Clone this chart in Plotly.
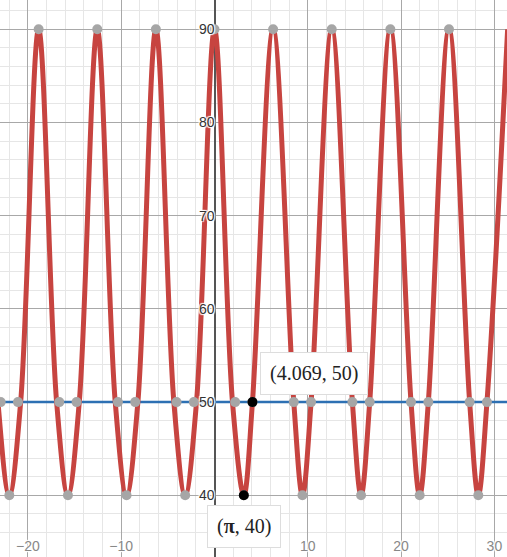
import plotly.graph_objects as go

# Key points of the red curve (maxima, crossings of y=50, minima)
curve_x = [-25.133, -23.205, -21.991, -20.777, -18.850, -16.922, -15.708, -14.494,
           -12.566, -10.639, -9.425, -8.211, -6.283, -4.355, -3.142, -1.928,
           0.0, 1.928, 3.142, 4.069, 6.283, 8.497, 9.425, 10.352,
           12.566, 14.780, 15.708, 16.635, 18.850, 21.064, 21.991, 22.919,
           25.133, 27.347, 28.274, 29.202, 31.416]
curve_y = [90, 50, 40, 50, 90, 50, 40, 50,
           90, 50, 40, 50, 90, 50, 40, 50,
           90, 50, 40, 50, 90, 50, 40, 50,
           90, 50, 40, 50, 90, 50, 40, 50,
           90, 50, 40, 50, 90]

# Grey highlighted points (Desmos style)
max_x = [-18.850, -12.566, -6.283, 0.0, 6.283, 12.566, 18.850, 25.133]
min_x = [-21.991, -15.708, -9.425, -3.142, 3.142, 9.425, 15.708, 21.991, 28.274]
cross_x = [-22.919, -21.064, -16.635, -14.780, -10.352, -8.497, -4.069, -2.214,
           2.214, 4.069, 8.497, 10.352, 14.780, 16.635, 21.064, 22.919, 27.347, 29.202]

hline_y = 50
hline_x = [-30, 40]

labeled_x = [3.14159, 4.069]
labeled_y = [40, 50]
labeled_text = ["(<b>π</b>, 40)", "(4.069, 50)"]

x_ticks = [-20, -10, 10, 20, 30]
y_ticks = [40, 50, 60, 70, 80, 90]

fig = go.Figure()

fig.add_trace(go.Scatter(x=hline_x, y=[hline_y] * len(hline_x), mode="lines",
                         line=dict(color="#2d70b3", width=2.5), hoverinfo="skip"))
fig.add_trace(go.Scatter(x=curve_x, y=curve_y, mode="lines",
                         line=dict(color="#c74440", width=5, shape="spline", smoothing=1.0),
                         hoverinfo="skip"))
grey_x = max_x + min_x + cross_x
grey_y = [90] * len(max_x) + [40] * len(min_x) + [hline_y] * len(cross_x)
fig.add_trace(go.Scatter(x=grey_x, y=grey_y, mode="markers",
                         marker=dict(color="#a6a6a6", size=10), hoverinfo="skip"))
fig.add_trace(go.Scatter(x=labeled_x, y=labeled_y, mode="markers",
                         marker=dict(color="#000000", size=10), hoverinfo="skip"))

fig.add_annotation(x=labeled_x[0], y=labeled_y[0], text=labeled_text[0], showarrow=False,
                   xshift=0, yshift=-31, font=dict(family="Liberation Serif", size=20, color="#222"),
                   bgcolor="white", bordercolor="#dddddd", borderwidth=1, borderpad=9)
fig.add_annotation(x=labeled_x[1], y=labeled_y[1], text=labeled_text[1], showarrow=False,
                   xshift=62, yshift=29, font=dict(family="Liberation Serif", size=20, color="#222"),
                   bgcolor="white", bordercolor="#dddddd", borderwidth=1, borderpad=9)

halo = "1px 1px 1px white, -1px -1px 1px white, 1px -1px 1px white, -1px 1px 1px white"

fig.update_layout(
    width=507, height=557,
    margin=dict(l=0, r=0, t=0, b=0, pad=0),
    paper_bgcolor="white", plot_bgcolor="white",
    showlegend=False,
    xaxis=dict(range=[-22.99, 31.35], tickvals=x_ticks, showgrid=True, gridcolor="#a8a8a8",
               gridwidth=1, zeroline=True, zerolinecolor="#555555", zerolinewidth=2,
               ticklabelposition="inside", ticks="", automargin=False,
               tickfont=dict(family="Liberation Sans", size=14, color="#888888", shadow=halo),
               minor=dict(dtick=2, tick0=0, showgrid=True, gridcolor="#e6e6e6", gridwidth=1),
               showline=False, fixedrange=True),
    yaxis=dict(range=[33.38, 93.14], tickvals=y_ticks, showgrid=True, gridcolor="#a8a8a8",
               gridwidth=1, zeroline=False, anchor="free", position=214.5 / 507,
               ticks="", showline=False, automargin=False,
               tickfont=dict(family="Liberation Sans", size=14, color="#333333", shadow=halo),
               minor=dict(dtick=2, tick0=0, showgrid=True, gridcolor="#e6e6e6", gridwidth=1),
               fixedrange=True),
)

fig.write_html("out.html", config={"displayModeBar": False},
               post_script="document.body.style.margin='0';document.body.style.overflow='hidden';")
